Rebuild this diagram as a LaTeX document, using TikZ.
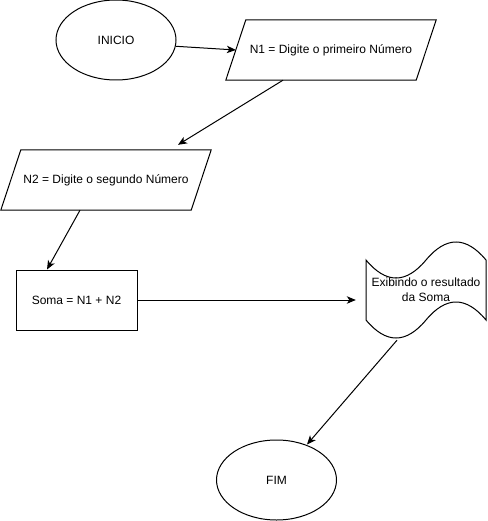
\documentclass[tikz,border=0pt]{standalone}
\usepackage{fontspec}
\setmainfont{Liberation Sans}
\usetikzlibrary{shapes.geometric,arrows.meta,calc}
\begin{document}
\begin{tikzpicture}[x=1pt,y=-1pt,
  every node/.style={font=\fontsize{12}{15}\selectfont, inner sep=0pt},
  term/.style={ellipse, draw, line width=1pt, minimum width=120pt, minimum height=80pt},
  slot/.style={minimum width=210pt, minimum height=60pt},
  procbox/.style={rectangle, draw, line width=1pt, minimum width=121pt, minimum height=60pt},
  tapebox/.style={minimum width=120pt, minimum height=100pt, align=center},
  shp/.style={draw, line width=1pt, line join=miter},
  conn/.style={line width=1pt, -{Stealth[length=9pt,width=7.5pt,inset=2.5pt]}}
]
\useasboundingbox (0,0) rectangle (487,521);

% nodes
\node[term] (ini) at (116,40) {INICIO};
\node[slot] (n1) at (331,50) {N1 = Digite o primeiro Número};
\node[slot] (n2) at (106,180) {N2 = Digite o segundo Número};
\node[procbox] (soma) at (76.5,300) {Soma = N1 + N2};
\node[tapebox] (doc) at (426,290) {Exibindo o resultado\\da Soma};
\node[term] (fim) at (276.5,480) {FIM};

% parallelograms
\draw[shp] ($(n1.north west)+(20,0)$) -- (n1.north east) -- ($(n1.south east)+(-20,0)$) -- (n1.south west) -- cycle;
\draw[shp] ($(n2.north west)+(20,0)$) -- (n2.north east) -- ($(n2.south east)+(-20,0)$) -- (n2.south west) -- cycle;

% tape (document) shape
\draw[shp, shift={(doc.center)}] (-60,-30) .. controls (-40,-6) and (-20,-6) .. (0,-30)
  .. controls (20,-54) and (40,-54) .. (60,-30) -- (60,30)
  .. controls (40,6) and (20,6) .. (0,30)
  .. controls (-20,54) and (-40,54) .. (-60,30) -- cycle;

% connectors
\draw[conn] (ini.-6) -- ($(n1.west)+(10,0)$);
\draw[conn] ($(n1.south)+(-48,0)$) -- ($(n2.north)+(72,-5)$);
\draw[conn] ($(n2.south)+(-26,0)$) -- ($(soma.north)+(-29.5,0)$);
\draw[conn] (soma.east) -- ($(doc.west)+(-10,10)$);
\draw[conn] ($(doc.south)+(-29,0)$) -- ($(fim.north)+(30.5,5)$);
\end{tikzpicture}
\end{document}
